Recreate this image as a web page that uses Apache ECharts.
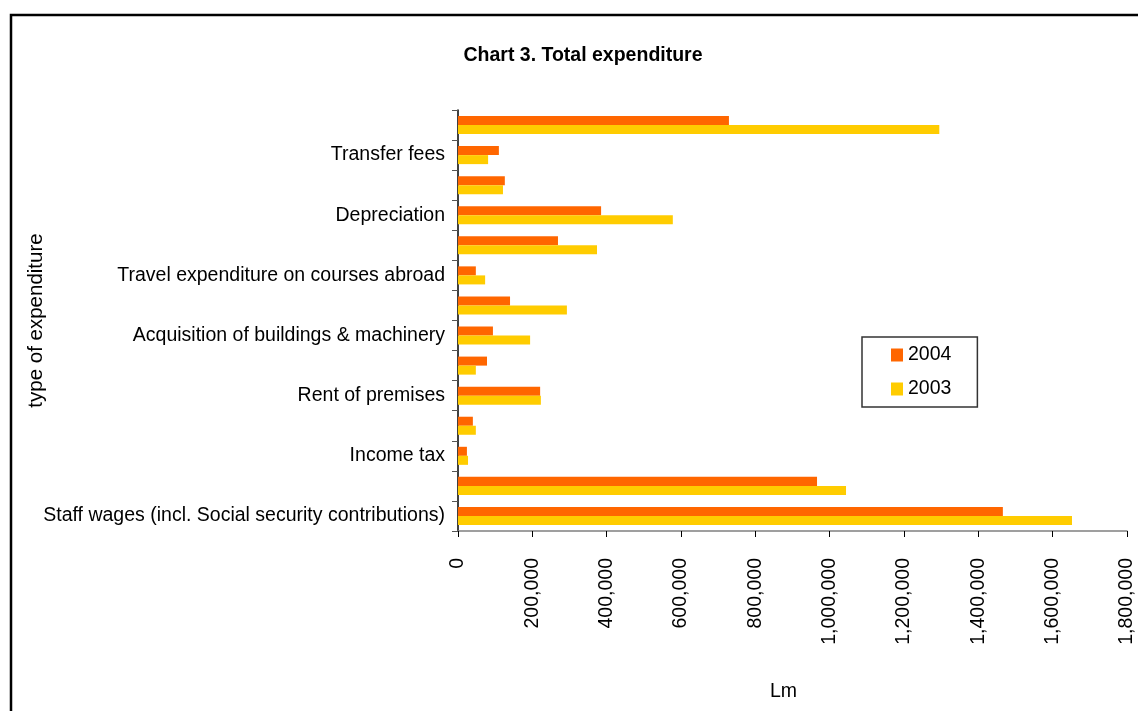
<!DOCTYPE html>
<html>
<head>
<meta charset="utf-8">
<script src="https://cdn.jsdelivr.net/npm/echarts@6/dist/echarts.min.js"></script>
<style>
  html, body { margin: 0; padding: 0; background: #fff; }
  #chart { width: 1138px; height: 711px; }
</style>
</head>
<body>
<div id="chart"></div>
<script>
// categories bottom -> top (only every other one is labelled in the source)
var categories = [
  "Staff wages (incl. Social security contributions)",
  "Other expenditure 1",
  "Income tax",
  "Other expenditure 2",
  "Rent of premises",
  "Other expenditure 3",
  "Acquisition of buildings & machinery",
  "Other expenditure 4",
  "Travel expenditure on courses abroad",
  "Other expenditure 5",
  "Depreciation",
  "Other expenditure 6",
  "Transfer fees",
  "Other expenditure 7"
];
var values2004 = [1466000, 966000, 24000, 40000, 221000, 78000, 94000, 140000, 48000, 269000, 385000, 126000, 110000, 729000];
var values2003 = [1652000, 1044000, 27000, 48000, 223000, 48000, 194000, 293000, 73000, 374000, 578000, 121000, 81000, 1295000];
var xTicks = { min: 0, max: 1800000, interval: 200000 };

var chart = echarts.init(document.getElementById("chart"));
var font = "Liberation Sans, Arial, sans-serif";

chart.setOption({
  animation: false,
  backgroundColor: "#fff",
  title: {
    text: "Chart 3. Total expenditure",
    left: 578, top: 41, textAlign: "center",
    textStyle: { fontFamily: font, fontSize: 19.5, fontWeight: "bold", color: "#000" }
  },
  legend: {
    data: ["2004", "2003"],
    orient: "vertical",
    left: 862, top: 337,
    padding: [8, 26, 8, 29],
    itemWidth: 12, itemHeight: 13, itemGap: 14,
    borderColor: "#333", borderWidth: 1.5,
    icon: "rect",
    textStyle: { fontFamily: font, fontSize: 19.5, color: "#000" }
  },
  graphic: [{
    type: "polyline",
    shape: { points: [[11, 711], [11, 15], [1138, 15]] },
    style: { fill: "none", stroke: "#000", lineWidth: 2.5 }
  }],
  grid: { left: 458, right: 11, top: 110, bottom: 180, containLabel: false },
  xAxis: {
    type: "value",
    min: xTicks.min, max: xTicks.max, interval: xTicks.interval,
    name: "Lm", nameLocation: "middle", nameGap: 151,
    nameTextStyle: { fontFamily: font, fontSize: 19.5, color: "#000", padding: [0, 18, 0, 0] },
    axisLine: { show: true, lineStyle: { color: "#808080", width: 1.5 } },
    axisTick: { show: true, length: 6, lineStyle: { color: "#000" } },
    splitLine: { show: false },
    axisLabel: {
      rotate: 90, margin: 27,
      fontFamily: font, fontSize: 19.5, color: "#000",
      formatter: function (v) { return v.toLocaleString("en-US"); }
    }
  },
  yAxis: {
    type: "category",
    data: categories,
    name: "type of expenditure", nameLocation: "middle", nameGap: 411, nameRotate: 90,
    nameMoveOverlap: false,
    nameTextStyle: { fontFamily: font, fontSize: 20.5, color: "#000" },
    axisLine: { show: true, lineStyle: { color: "#000", width: 1.5 } },
    axisTick: { show: true, length: 6, interval: 0, lineStyle: { color: "#555" } },
    axisLabel: {
      interval: 1, margin: 13,
      fontFamily: font, fontSize: 19.5, color: "#000"
    }
  },
  series: [
    {
      name: "2004", type: "bar", data: values2004,
      itemStyle: { color: "#FF6600" },
      barGap: "0%", barCategoryGap: "40%"
    },
    {
      name: "2003", type: "bar", data: values2003,
      itemStyle: { color: "#FFCC00" },
      barGap: "0%", barCategoryGap: "40%"
    }
  ]
});
</script>
</body>
</html>
